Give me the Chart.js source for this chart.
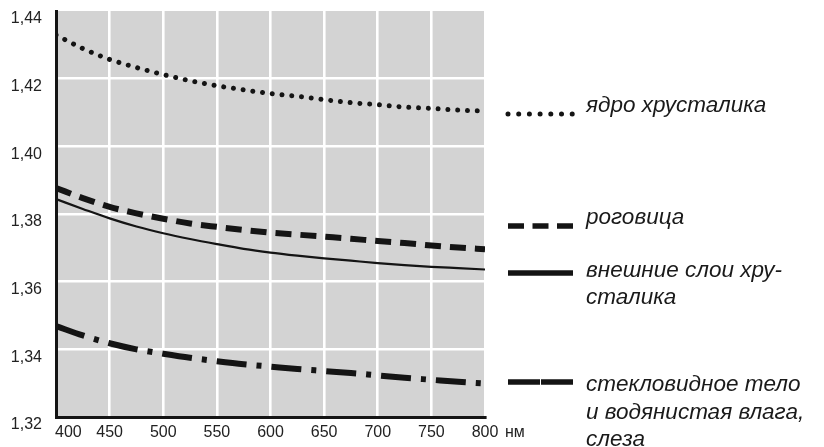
<!doctype html>
<html>
<head>
<meta charset="utf-8">
<title>Показатель преломления сред глаза</title>
<script src="https://cdn.jsdelivr.net/npm/chart.js"></script>
<style>
    html, body { margin: 0; padding: 0; background: #fff; }
    #wrap { width: 824px; height: 447px; }
</style>
</head>
<body>
<div id="wrap"><canvas id="grafik" width="824" height="447"></canvas></div>

<script>
    // длина волны, нм
    var dlinyVoln = [400, 425, 450, 475, 500, 525, 550, 575, 600, 625, 650, 675, 700, 725, 750, 775, 800];

    // показатель преломления
    var yadro = [1.4329, 1.4289, 1.4257, 1.4233, 1.4212, 1.4194, 1.4179, 1.4167, 1.4156, 1.4148, 1.4138, 1.4129, 1.4123, 1.4116, 1.4112, 1.4107, 1.4104];
    var rogovica = [1.3877, 1.3847, 1.3821, 1.3802, 1.3786, 1.3772, 1.3762, 1.3753, 1.3745, 1.3739, 1.3733, 1.3727, 1.3720, 1.3714, 1.3707, 1.3701, 1.3696];
    var vneshnie = [1.3844, 1.3815, 1.3787, 1.3763, 1.3743, 1.3726, 1.3711, 1.3697, 1.3686, 1.3677, 1.3669, 1.3662, 1.3655, 1.3649, 1.3644, 1.3640, 1.3636];
    var steklo = [1.3469, 1.3441, 1.3418, 1.3400, 1.3387, 1.3375, 1.3365, 1.3356, 1.3349, 1.3342, 1.3336, 1.3330, 1.3323, 1.3316, 1.3310, 1.3304, 1.3299];

    var xTiki = [400, 450, 500, 550, 600, 650, 700, 750, 800];
    var yTiki = [1.32, 1.34, 1.36, 1.38, 1.40, 1.42, 1.44];
    var edinica = 'нм';

    var nazvaniya = [
        ['ядро хрусталика'],
        ['роговица'],
        ['внешние слои хру-', 'сталика'],
        ['стекловидное тело', 'и водянистая влага,', 'слеза']
    ];

    var shrift = "'Liberation Sans', Arial, sans-serif";
    var chernyi = '#141414';

    function tochki(znacheniya) {
        return dlinyVoln.map(function (x, i) { return { x: x, y: znacheniya[i] }; });
    }

    function krai(ctx, a, b) {
        var v = ctx.tick ? ctx.tick.value : null;
        return (Math.abs(v - a) < 1e-9 || Math.abs(v - b) < 1e-9) ? 'rgba(0,0,0,0)' : '#ffffff';
    }

    // серый фон области графика
    var fon = {
        id: 'fon',
        beforeDraw: function (chart) {
            var c = chart.ctx, a = chart.chartArea;
            c.save();
            c.fillStyle = '#fff';
            c.fillRect(0, 0, chart.width, chart.height);
            c.fillStyle = '#d3d3d3';
            c.fillRect(a.left, a.top, a.right - a.left - 1, a.bottom - a.top);
            c.restore();
        }
    };

    // подписи оси x и легенда справа
    var podpisi = {
        id: 'podpisi',
        afterDraw: function (chart) {
            var c = chart.ctx, sx = chart.scales.x;
            c.save();
            c.fillStyle = '#222';
            c.font = '16px ' + shrift;
            c.textBaseline = 'middle';
            xTiki.forEach(function (v, i) {
                var px = sx.getPixelForValue(v);
                if (i == 0) {
                    c.textAlign = 'left';
                    c.fillText(String(v), px - 1, 433);
                } else {
                    c.textAlign = 'center';
                    c.fillText(String(v), px, 433);
                }
                if (i == xTiki.length - 1) {
                    c.textAlign = 'left';
                    c.fillText(edinica, px + 20, 433);
                }
            });

            // образцы линий
            var x1 = 508, x2 = 573;
            var obrazcy = [
                { y: 114, w: 5, dash: [0.001, 10.7], cap: 'round' },
                { y: 226, w: 5.5, dash: [16, 8.5], cap: 'butt' },
                { y: 273, w: 5.5, dash: [], cap: 'butt' },
                { y: 382, w: 5.5, dash: [32, 1], cap: 'butt' }
            ];
            c.strokeStyle = chernyi;
            obrazcy.forEach(function (o) {
                c.beginPath();
                c.lineWidth = o.w;
                c.lineCap = o.cap;
                c.setLineDash(o.dash);
                c.moveTo(x1, o.y);
                c.lineTo(x2, o.y);
                c.stroke();
            });
            c.setLineDash([]);

            // текст легенды
            var stroki = [[112], [224], [277, 304], [391, 418.5, 446]];
            c.font = 'italic 22.5px ' + shrift;
            c.textAlign = 'left';
            c.textBaseline = 'alphabetic';
            c.fillStyle = '#1a1a1a';
            nazvaniya.forEach(function (n, i) {
                n.forEach(function (s, j) {
                    c.fillText(s, 586, stroki[i][j]);
                });
            });
            c.restore();
        }
    };

    new Chart(document.getElementById('grafik').getContext('2d'), {
        type: 'line',
        data: {
            datasets: [{
                label: nazvaniya[0].join(' '),
                data: tochki(yadro),
                borderColor: chernyi,
                borderWidth: 5,
                borderDash: [0.001, 9.8],
                borderCapStyle: 'round'
            }, {
                label: nazvaniya[1].join(' '),
                data: tochki(rogovica),
                borderColor: chernyi,
                borderWidth: 6,
                borderDash: [16, 9]
            }, {
                label: nazvaniya[2].join(' '),
                data: tochki(vneshnie),
                borderColor: chernyi,
                borderWidth: 2.2
            }, {
                label: nazvaniya[3].join(' '),
                data: tochki(steklo),
                borderColor: chernyi,
                borderWidth: 6,
                borderDash: [30, 10, 5, 10]
            }]
        },
        options: {
            responsive: false,
            animation: false,
            events: [],
            layout: { padding: { top: 11, right: 339, left: 0, bottom: 0 } },
            elements: {
                point: { radius: 0 },
                line: { cubicInterpolationMode: 'monotone', fill: false, borderJoinStyle: 'round' }
            },
            plugins: {
                legend: { display: false },
                tooltip: { enabled: false }
            },
            scales: {
                x: {
                    type: 'linear',
                    min: 400,
                    max: 800,
                    afterBuildTicks: function (s) { s.ticks = xTiki.map(function (v) { return { value: v }; }); },
                    afterFit: function (s) { s.height = 30; s.paddingLeft = 0; s.paddingRight = 0; },
                    ticks: { display: false },
                    grid: {
                        color: function (ctx) { return krai(ctx, 400, 800); },
                        lineWidth: 2.6,
                        drawTicks: false
                    },
                    border: { color: chernyi, width: 3 }
                },
                y: {
                    min: 1.32,
                    max: 1.44,
                    afterBuildTicks: function (s) { s.ticks = yTiki.map(function (v) { return { value: v }; }); },
                    afterFit: function (s) { s.width = 56; s.paddingTop = 0; s.paddingBottom = 0; },
                    ticks: {
                        font: { family: shrift, size: 16 },
                        color: '#222',
                        padding: 14,
                        labelOffset: 8,
                        callback: function (v) { return Number(v).toFixed(2).replace('.', ','); }
                    },
                    grid: {
                        color: function (ctx) { return krai(ctx, 1.32, 1.44); },
                        lineWidth: 2.6,
                        drawTicks: false
                    },
                    border: { color: chernyi, width: 3 }
                }
            }
        },
        plugins: [fon, podpisi]
    });
</script>
</body>
</html>
